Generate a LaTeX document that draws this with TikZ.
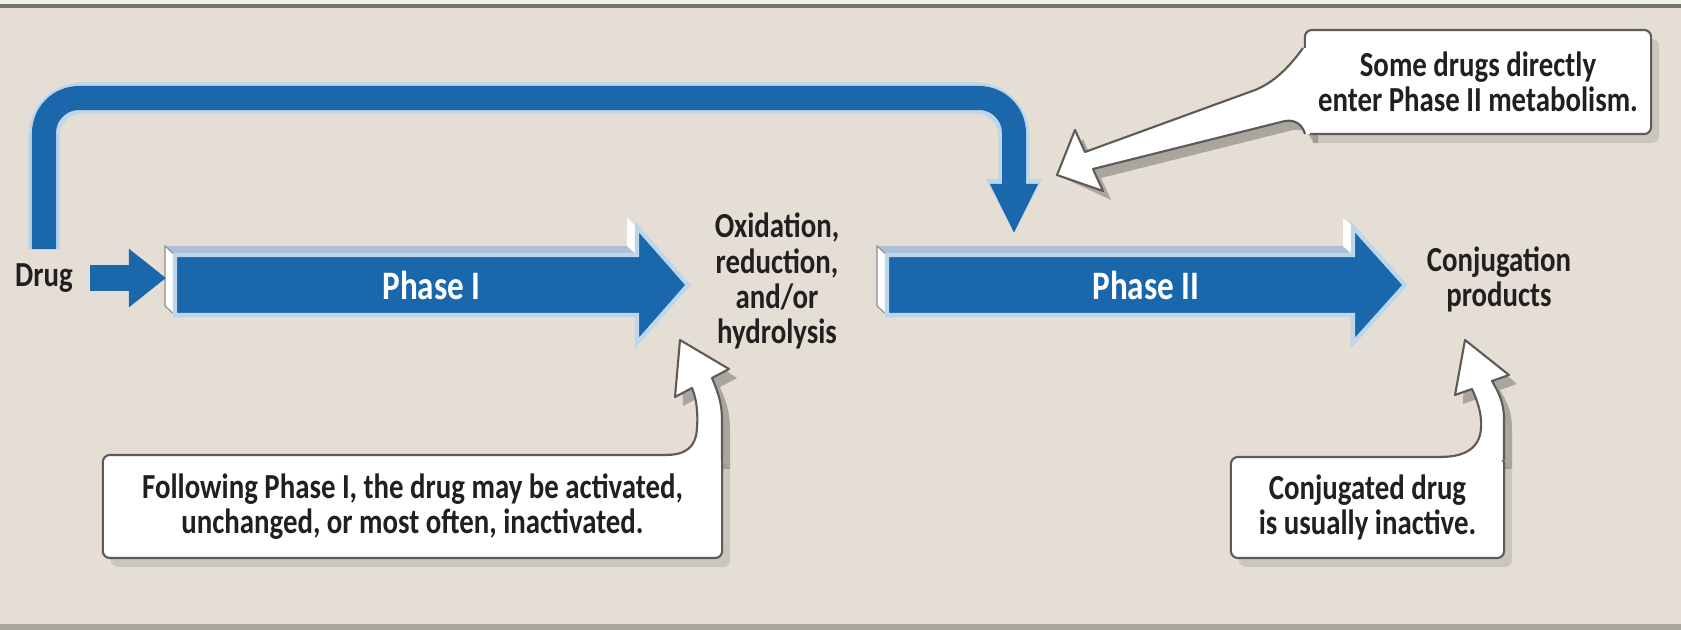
\documentclass[tikz,border=0pt]{standalone}
\usepackage{fontspec}
\setmainfont{Carlito}[FakeStretch=0.82]
\usepackage{tikz}
\usetikzlibrary{arrows.meta,calc,shadows}
\definecolor{bgc}{HTML}{E4DED5}
\definecolor{topc}{HTML}{F2F0EA}
\definecolor{rulec}{HTML}{77766E}
\definecolor{phblue}{HTML}{1A67AC}
\definecolor{phedge}{HTML}{BCD6EC}
\definecolor{phtop}{HTML}{AEBFD6}
\definecolor{inkc}{HTML}{231F20}
\definecolor{rimc}{HTML}{5E5B57}
\newcommand{\notefont}{\fontsize{10}{10}\selectfont\bfseries}
\newcommand{\phasefont}{\fontsize{11.5}{11.5}\selectfont\bfseries}
\tikzset{
  plain/.style={font=\notefont, text=inkc, align=center, inner sep=0pt},
  note/.style={plain, draw=rimc, line width=0.6pt, fill=white, rounded corners=2pt,
               drop shadow={shadow xshift=0.08cm, shadow yshift=-0.09cm, opacity=0.25}},
  tailshade/.style={fill=black, opacity=0.25},
  tailline/.style={draw=rimc, line width=0.6pt, line join=round},
  phaselabel/.style={font=\phasefont, text=white, inner sep=0pt},
  fatarrow/.style={draw=phblue, line width=0.26cm, -{Triangle[length=0.37cm,width=0.56cm]}},
  bypass/.style={draw=phblue, line width=0.24cm, rounded corners=0.35cm, -{Triangle[length=0.5cm,width=0.44cm]}},
  bypassglow/.style={draw=phedge, line width=0.31cm, rounded corners=0.38cm, -{Triangle[length=0.55cm,width=0.52cm]}},
}
\def\yM{285}
% #1 name, #2 left end, #3 head base, #4 tip, #5 label
\newcommand{\phasearrow}[5]{%
  \fill[phtop] (#2,255) -- ({#2-10},246) -- ({#3-10},246) -- (#3,255) -- cycle;
  \filldraw[white, draw=black!45, line width=0.3pt] (#2,255) -- ({#2-10},246) -- ({#2-10},306) -- (#2,315) -- cycle;
  \fill[white] (#3,227) -- ({#3-10},218) -- ({#3-10},246) -- (#3,255) -- cycle;
  \draw[phedge, line width=1.2pt, fill=phblue] (#2,255) -- (#3,255) -- (#3,227) -- (#4,\yM)
    -- (#3,343) -- (#3,315) -- (#2,315) -- cycle;
  \node[phaselabel] (#1) at ({(#2+#4)/2},\yM) {#5};}
% open edges of the callout tails
\newcommand{\tailA}{(1303,48) .. controls (1290,66) and (1275,82) .. (1255,90) -- (1085,152) -- (1075,130)
  -- (tipA) -- (1103,191) -- (1093,169) -- (1285,121) .. controls (1296,119) and (1303,126) .. (1305,134)}
\newcommand{\tailB}{(722,420) .. controls (722,400) and (716,388) .. (712,378) -- (729,369) -- (tipB)
  -- (675,397) -- (692,388) .. controls (697,400) and (698,415) .. (697,428) .. controls (696,448) and (685,455) .. (665,455)}
\newcommand{\tailC}{(1504,420) .. controls (1504,400) and (1497,390) .. (1492,381) -- (1509,375) -- (tipC)
  -- (1455,395) -- (1472,389) .. controls (1478,402) and (1482,415) .. (1481,428) .. controls (1480,448) and (1465,457) .. (1440,457)}

\begin{document}
\begin{tikzpicture}[x=0.01cm, y=-0.01cm]
  \useasboundingbox (0,0) rectangle (1681,630);
  \fill[bgc] (0,0) rectangle (1681,630);
  \fill[topc] (0,0) rectangle (1681,4);
  \fill[rulec] (0,4) rectangle (1681,8);
  \fill[rulec!55!bgc] (0,624) rectangle (1681,630);
  \coordinate (tipA) at (1057,175);
  \coordinate (tipB) at (680,340);
  \coordinate (tipC) at (1465,340);

  \phasearrow{phaseI}{175}{637}{688}{Phase I}
  \phasearrow{phaseII}{887}{1353}{1405}{Phase II}
  \coordinate (p1in) at (166,278);
  \coordinate (p2top) at (1014,234);

  \node[plain] (drug) at (44,278) {Drug};
  \node[plain] (ox) at (777,281) {Oxidation,\\reduction,\\and/or\\hydrolysis};
  \node[plain] (conj) at (1499,279) {Conjugation\\products};

  \draw[fatarrow, shorten <=0.16cm] (drug.east) -- (p1in);
  \draw[bypassglow, shorten <=0.13cm] (drug.north) |- (1014,98) -- (p2top);
  \draw[bypass, shorten <=0.14cm] (drug.north) |- (1014,98) -- (p2top);

  % shadows of the tails
  \begin{scope}[shift={(8,9)}]
    \fill[tailshade] (1310,48) -- \tailA -- (1310,134) -- cycle;
    \fill[tailshade] (722,460) -- \tailB -- (665,460) -- cycle;
    \fill[tailshade] (1504,460) -- \tailC -- (1440,460) -- cycle;
  \end{scope}

  \node[note, minimum width=3.46cm, minimum height=1.04cm] (noteA) at (1478,82)
    {Some drugs directly\\enter Phase II metabolism.};
  \node[note, minimum width=6.19cm, minimum height=1.03cm] (noteB) at (412.5,506.5)
    {Following Phase I, the drug may be activated,\\unchanged, or most often, inactivated.};
  \node[note, minimum width=2.73cm, minimum height=1.01cm] (noteC) at (1367.5,507.5)
    {Conjugated drug\\is usually inactive.};

  \fill[white] (1310,48) -- \tailA -- (1310,134) -- cycle;
  \draw[tailline] \tailA;
  \fill[white] (722,460) -- \tailB -- (665,460) -- cycle;
  \draw[tailline] (722,460) -- \tailB;
  \fill[white] (1504,460) -- \tailC -- (1440,460) -- cycle;
  \draw[tailline] (1504,460) -- \tailC;
\end{tikzpicture}
\end{document}
